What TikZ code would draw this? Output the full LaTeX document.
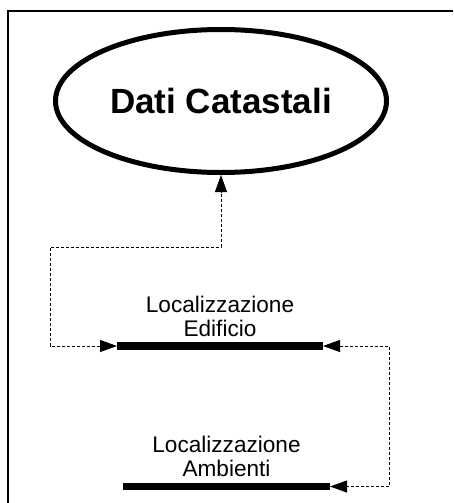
\documentclass[tikz,border=0pt]{standalone}
\usepackage{fontspec}
\setmainfont{Liberation Sans}
\usetikzlibrary{arrows.meta,positioning,shapes.geometric}
\begin{document}
\begin{tikzpicture}[x=1pt,y=-1pt,line cap=butt,line join=miter,
  frameline/.style={line width=1.8pt},
  entity/.style={ellipse,draw,line width=5pt,inner sep=0pt,minimum width=331pt,minimum height=143pt,
    font=\bfseries\fontsize{35}{40}\selectfont},
  bar/.style={fill=black,inner sep=0pt,outer sep=0pt,minimum height=7.5pt},
  label/.style={align=center,inner sep=0pt,font=\fontsize{22.6}{24}\selectfont},
  link/.style={line width=0.9pt,dash pattern=on 3pt off 2pt,{Triangle[length=17pt,width=12pt]}-{Triangle[length=17pt,width=12pt]}}]
  \useasboundingbox (0,0) rectangle (453,503);
  \draw[frameline] (453,11) -- (8,11) -- (8,503);
  \node[entity] (dati) at (221,101) {Dati Catastali};
  \node[bar,minimum width=206pt] (edificio) at (220,346) {};
  \node[bar,minimum width=207pt] (ambienti) at (226.5,486.5) {};
  \node[label,above=5pt of edificio] (ledificio) {Localizzazione\\Edificio};
  \node[label,above=6pt of ambienti] (lambienti) {Localizzazione\\Ambienti};
  \coordinate (lbend) at (50,247);
  \coordinate (rbend) at (389,486.5);
  \draw[link] (edificio.west) -| (lbend) -| (dati.south);
  \draw[link] (edificio.east) -| (rbend) -- (ambienti.east);
\end{tikzpicture}
\end{document}
